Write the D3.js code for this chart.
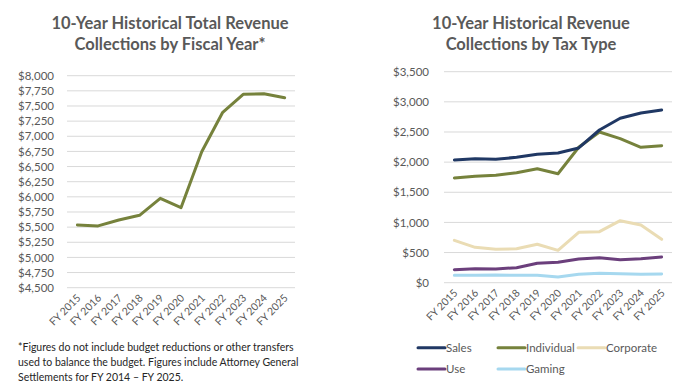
<!DOCTYPE html>
<html>
<head>
<meta charset="utf-8">
<script src="https://cdn.jsdelivr.net/npm/d3@7/dist/d3.min.js"></script>
<style>
  html, body { margin: 0; padding: 0; background: #fff; }
  svg { display: block; }
  text { font-family: Lato, "Open Sans", sans-serif; }
</style>
</head>
<body>
<svg id="chart" width="695" height="383"></svg>
<script>
const years = ["FY 2015","FY 2016","FY 2017","FY 2018","FY 2019","FY 2020","FY 2021","FY 2022","FY 2023","FY 2024","FY 2025"];
const totalRevenue = [5535, 5520, 5618, 5695, 5976, 5821, 6745, 7389, 7693, 7703, 7637];
const totalTicks = [4500,4750,5000,5250,5500,5750,6000,6250,6500,6750,7000,7250,7500,7750,8000];

const taxNames = ["Sales","Individual","Corporate","Use","Gaming"];
const sales      = [2035, 2057, 2047, 2080, 2130, 2152, 2235, 2533, 2727, 2815, 2865];
const individual = [1737, 1765, 1782, 1825, 1891, 1808, 2246, 2500, 2389, 2246, 2273];
const corporate  = [703, 587, 554, 564, 637, 537, 836, 846, 1029, 957, 720];
const useTax     = [216, 232, 227, 249, 322, 338, 393, 415, 382, 398, 426];
const gaming     = [122, 122, 127, 122, 122, 94, 139, 155, 150, 139, 144];
const taxTicks = [0,500,1000,1500,2000,2500,3000,3500];

const leftTitle = ["10-Year Historical Total Revenue", "Collections by Fiscal Year*"];
const rightTitle = ["10-Year Historical Revenue", "Collections by Tax Type"];
const footnote = ["*Figures do not include budget reductions or other transfers",
                  "used to balance the budget. Figures include Attorney General",
                  "Settlements for FY 2014 \u2013 FY 2025."];

const taxSeries = [sales, individual, corporate, useTax, gaming];
const taxColors = ["#203864", "#76823C", "#EADCB4", "#6B3F7C", "#A6D8EF"];
const totalColor = "#76823C";
const textColor = "#595959";
const gridColor = "#D9D9D9";

const svg = d3.select("#chart");
const fmt = d3.format("$,");

function drawPanel(opts) {
  const g = svg.append("g");
  const x = d3.scaleBand().domain(years).range([opts.x0, opts.x1]);
  const y = d3.scaleLinear().domain(opts.domain).range([opts.y0, opts.y1]);

  // grid
  g.append("g").selectAll("line").data(opts.ticks).join("line")
    .attr("x1", opts.x0).attr("x2", opts.x1)
    .attr("y1", d => y(d)).attr("y2", d => y(d))
    .attr("stroke", gridColor).attr("stroke-width", 1);

  // y axis labels
  const ya = g.append("g").attr("transform", `translate(${opts.x0},0)`)
    .call(d3.axisLeft(y).tickValues(opts.ticks).tickFormat(fmt).tickSize(0).tickPadding(opts.ypad));
  ya.select(".domain").remove();
  ya.selectAll("text").attr("fill", textColor).style("font-size", "11.5px").style("font-family", "Lato, sans-serif");

  // x axis labels
  const xa = g.append("g").attr("transform", `translate(0,${opts.y0})`)
    .call(d3.axisBottom(x).tickSize(0).tickPadding(0));
  xa.select(".domain").remove();
  xa.selectAll("text")
    .attr("fill", textColor).style("font-size", "10.5px").style("font-family", "Lato, sans-serif")
    .attr("text-anchor", "end")
    .attr("dy", "0")
    .attr("transform", "translate(4,11) rotate(-45)");

  // lines
  const line = d3.line().x((d, i) => x(years[i]) + x.bandwidth() / 2).y(d => y(d));
  opts.series.forEach((s, i) => {
    g.append("path").datum(s)
      .attr("fill", "none").attr("stroke", opts.colors[i])
      .attr("stroke-width", 3).attr("stroke-linejoin", "round").attr("stroke-linecap", "round")
      .attr("d", line);
  });

  // title
  opts.title.forEach((t, i) => {
    g.append("text").attr("x", opts.tx).attr("y", 29 + i * 21)
      .attr("text-anchor", "middle").attr("fill", textColor)
      .style("font-size", "16.5px").style("font-weight", "bold").text(t);
  });
  return {x, y};
}

drawPanel({
  x0: 67, x1: 295, y0: 287.7, y1: 75.7, domain: [4500, 8000],
  ticks: totalTicks, ypad: 13, series: [totalRevenue], colors: [totalColor],
  title: leftTitle, tx: 170
});

// reversed order drawing so sales on top
const right = drawPanel({
  x0: 444, x1: 672, y0: 282.7, y1: 71.7, domain: [0, 3500],
  ticks: taxTicks, ypad: 15, series: taxSeries.slice().reverse(), colors: taxColors.slice().reverse(),
  title: rightTitle, tx: 531
});

// footnote
footnote.forEach((t, i) => {
  svg.append("text").attr("x", 18).attr("y", 350.5 + i * 15.2)
    .attr("fill", "#262626").style("font-size", "10.5px").text(t);
});

// legend
const legPos = [[418, 347.7], [498, 347.7], [578, 347.7], [418, 369], [498, 369]];
const leg = svg.append("g").selectAll("g").data(taxNames).join("g")
  .attr("transform", (d, i) => `translate(${legPos[i][0]},${legPos[i][1]})`);
leg.append("line").attr("x1", 0).attr("x2", 27).attr("y1", 0).attr("y2", 0)
  .attr("stroke", (d, i) => taxColors[i]).attr("stroke-width", 3).attr("stroke-linecap", "round");
leg.append("text").attr("x", 28).attr("y", 4).attr("fill", textColor)
  .style("font-size", "11.5px").text(d => d);
</script>
</body>
</html>
